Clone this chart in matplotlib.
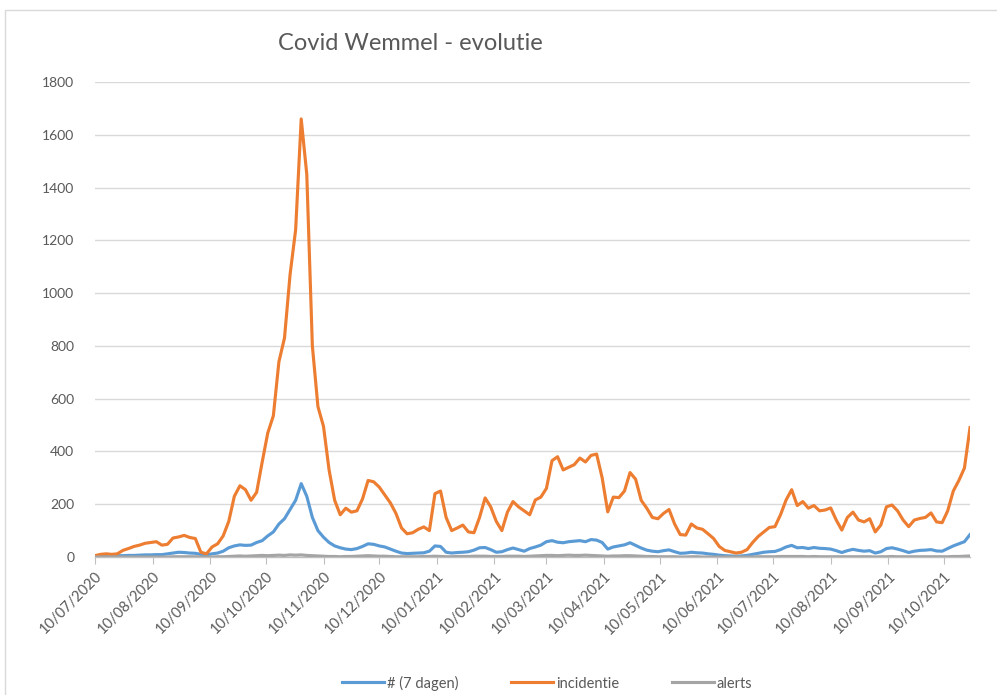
import pandas as pd
import matplotlib.pyplot as plt
import matplotlib.dates as mdates
from matplotlib.patches import Rectangle

start_date = '2020-07-10'
step_days = 3

incidentie = [
    5, 10, 12, 10, 12, 25, 32, 40, 45, 52,
    55, 58, 45, 48, 72, 76, 82, 74, 70, 18,
    12, 38, 50, 80, 135, 230, 270, 255, 215, 245,
    360, 470, 535, 740, 830, 1070, 1240, 1660, 1450, 800,
    570, 495, 330, 215, 160, 185, 170, 175, 220, 290,
    285, 265, 235, 205, 165, 110, 88, 92, 105, 114,
    100, 240, 250, 150, 100, 110, 121, 95, 92, 150,
    224, 190, 135, 100, 170, 210, 190, 175, 160, 216,
    227, 260, 365, 380, 330, 340, 350, 375, 360, 385,
    390, 300, 171, 227, 225, 250, 320, 295, 215, 185,
    150, 145, 165, 180, 125, 85, 83, 125, 110, 105,
    88, 70, 40, 25, 20, 15, 18, 28, 55, 78,
    95, 112, 115, 160, 216, 255, 195, 210, 185, 195,
    175, 178, 186, 140, 102, 150, 170, 140, 133, 145,
    95, 121, 190, 197, 175, 140, 115, 140, 146, 150,
    167, 133, 130, 175, 250, 290, 337, 490,
]

zeven_dagen = [
    3, 3, 4, 4, 5, 5, 6, 6, 7, 8,
    8, 9, 9, 12, 15, 18, 17, 15, 14, 10,
    8, 12, 15, 22, 35, 42, 46, 44, 45, 55,
    62, 80, 95, 125, 145, 180, 215, 278, 230, 150,
    100, 75, 55, 42, 35, 30, 28, 32, 40, 50,
    48, 42, 38, 30, 22, 15, 13, 14, 15, 16,
    22, 42, 40, 18, 15, 17, 18, 20, 26, 35,
    36, 28, 18, 20, 28, 34, 28, 22, 32, 38,
    45, 58, 62, 56, 54, 58, 60, 62, 58, 66,
    64, 55, 30, 38, 42, 46, 54, 44, 34, 26,
    22, 20, 24, 27, 20, 14, 15, 18, 16, 15,
    12, 10, 7, 5, 4, 3, 4, 6, 10, 14,
    18, 20, 21, 28, 38, 44, 35, 36, 32, 36,
    33, 32, 30, 24, 17, 24, 29, 25, 22, 24,
    15, 20, 32, 35, 30, 24, 17, 22, 25, 26,
    28, 23, 22, 32, 42, 50, 58, 85,
]

alerts = [
    0, 0, 0, 0, 0, 0, 0, 0, 0, 0,
    0, 0, 0, 0, 1, 1, 1, 1, 1, 0,
    0, 0, 1, 1, 2, 3, 4, 3, 4, 5,
    6, 5, 6, 7, 6, 8, 7, 8, 6, 5,
    4, 3, 2, 2, 1, 2, 2, 3, 4, 5,
    4, 3, 3, 2, 1, 1, 1, 1, 1, 2,
    2, 3, 2, 1, 1, 2, 2, 2, 3, 3,
    3, 2, 2, 2, 3, 3, 3, 2, 3, 4,
    5, 6, 6, 5, 6, 7, 6, 6, 7, 6,
    5, 4, 3, 4, 4, 5, 5, 4, 3, 2,
    2, 1, 1, 1, 1, 0, 0, 1, 1, 0,
    0, 0, 0, 0, 0, 0, 0, 0, 0, 1,
    1, 1, 1, 2, 2, 2, 2, 2, 1, 2,
    1, 1, 1, 1, 1, 1, 1, 1, 1, 1,
    0, 1, 1, 2, 1, 1, 1, 1, 1, 1,
    1, 1, 1, 1, 2, 2, 3, 4,
]

dates = pd.date_range(start_date, periods=len(incidentie), freq=f'{step_days}D')
# ticks on the 10th of every month
month_ticks = pd.date_range('2020-07-01', '2021-10-01', freq='MS') + pd.Timedelta(days=9)

text_color = '#595959'
plt.rcParams['font.family'] = ['Lato', 'DejaVu Sans']

fig = plt.figure(figsize=(9.97, 6.95), dpi=100)
ax = fig.add_axes([95 / 997, 1 - 557 / 695, 875 / 997, 475 / 695])

# Light frame around the chart area, like the Excel chart border
fig.patches.append(Rectangle((5 / 997, -0.01), 1.0, 1 - 10 / 695 + 0.01,
                             transform=fig.transFigure, fill=False,
                             edgecolor='#D9D9D9', linewidth=1.0))

ax.plot(dates, zeven_dagen, color='#5B9BD5', linewidth=2.25, label='# (7 dagen)', zorder=3)
ax.plot(dates, incidentie, color='#ED7D31', linewidth=2.25, label='incidentie', zorder=3)
ax.plot(dates, alerts, color='#A5A5A5', linewidth=2.25, label='alerts', zorder=4)

ax.set_ylim(0, 1800)
ax.set_yticks(range(0, 1801, 200))
ax.set_xlim(dates[0], dates[-1])
ax.set_xticks(month_ticks)
ax.xaxis.set_major_formatter(mdates.DateFormatter('%d/%m/%Y'))

ax.grid(axis='y', color='#D9D9D9', linewidth=1.0)
ax.set_axisbelow(True)
for side in ['top', 'right', 'left']:
    ax.spines[side].set_visible(False)
ax.spines['bottom'].set_color('#BFBFBF')
ax.spines['bottom'].set_linewidth(1.0)

ax.tick_params(axis='y', length=0, pad=15, labelsize=10, labelcolor=text_color)
ax.tick_params(axis='x', length=5, color='#BFBFBF', pad=4, labelsize=10.5, labelcolor=text_color)
for lbl in ax.get_xticklabels():
    lbl.set_rotation(45)
    lbl.set_ha('right')
    lbl.set_rotation_mode('anchor')

fig.text(0.412, 1 - 43 / 695, 'Covid Wemmel - evolutie', ha='center', va='center',
         fontsize=17, color=text_color)

fig.legend(loc='center', bbox_to_anchor=(547 / 997, 1 - 683 / 695), ncol=3, frameon=False,
           fontsize=10.5, labelcolor=text_color, handlelength=2.9, handletextpad=0.2,
           columnspacing=3.6)

fig.savefig('out.png', dpi=100, facecolor='white')
plt.close(fig)
